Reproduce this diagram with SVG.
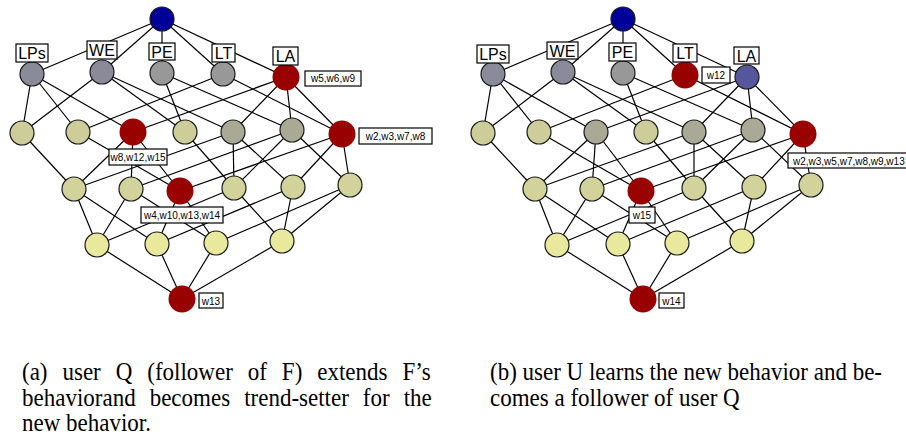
<svg xmlns="http://www.w3.org/2000/svg" width="906" height="438" viewBox="0 0 906 438">
<style>
  .e line { stroke:#000; stroke-width:1.2; }
  circle { stroke:#1a1a1a; stroke-width:1.2; }
  .top { fill:#000099; }
  .g1 { fill:#8a8a98; }
  .g2 { fill:#989898; }
  .red { fill:#990000; stroke:none; }
  .blu { fill:#56569c; }
  .k2 { fill:#cdcd99; }
  .gk { fill:#a9a995; }
  .k3 { fill:#d2d29b; }
  .y4 { fill:#e9e99d; }
  .box { fill:#fff; stroke:#000; stroke-width:1.2; }
  .at { font-family:"Liberation Sans", Arial, sans-serif; font-size:16px; text-anchor:middle; fill:#000; }
  .tg { font-family:"Liberation Sans", Arial, sans-serif; font-size:10px; text-anchor:middle; fill:#000; }
  .cap { font-family:"Liberation Serif", "Times New Roman", serif; font-size:25px; fill:#000; }
</style>

<!-- ===== Diagram (a) ===== -->
<g id="diagram-a">
  <g id="connectors-a" class="e">
    <line x1="162" y1="19" x2="32" y2="74"/>
    <line x1="162" y1="19" x2="102" y2="72"/>
    <line x1="162" y1="19" x2="162" y2="73"/>
    <line x1="162" y1="19" x2="223" y2="74"/>
    <line x1="162" y1="19" x2="286" y2="77"/>
    <line x1="32" y1="74" x2="22" y2="133"/>
    <line x1="32" y1="74" x2="78" y2="132"/>
    <line x1="32" y1="74" x2="133" y2="132"/>
    <line x1="102" y1="72" x2="22" y2="133"/>
    <line x1="102" y1="72" x2="185" y2="132"/>
    <line x1="102" y1="72" x2="233" y2="132"/>
    <line x1="162" y1="73" x2="185" y2="132"/>
    <line x1="162" y1="73" x2="292" y2="130"/>
    <line x1="223" y1="74" x2="78" y2="132"/>
    <line x1="223" y1="74" x2="342" y2="134"/>
    <line x1="286" y1="77" x2="133" y2="132"/>
    <line x1="286" y1="77" x2="233" y2="132"/>
    <line x1="286" y1="77" x2="292" y2="130"/>
    <line x1="286" y1="77" x2="342" y2="134"/>
    <line x1="22" y1="133" x2="74" y2="189"/>
    <line x1="78" y1="132" x2="180" y2="191"/>
    <line x1="133" y1="132" x2="74" y2="189"/>
    <line x1="133" y1="132" x2="131" y2="189"/>
    <line x1="133" y1="132" x2="180" y2="191"/>
    <line x1="185" y1="132" x2="234" y2="188"/>
    <line x1="233" y1="132" x2="74" y2="189"/>
    <line x1="233" y1="132" x2="234" y2="188"/>
    <line x1="233" y1="132" x2="293" y2="187"/>
    <line x1="292" y1="130" x2="131" y2="189"/>
    <line x1="292" y1="130" x2="234" y2="188"/>
    <line x1="292" y1="130" x2="350" y2="185"/>
    <line x1="342" y1="134" x2="180" y2="191"/>
    <line x1="342" y1="134" x2="293" y2="187"/>
    <line x1="342" y1="134" x2="350" y2="185"/>
    <line x1="74" y1="189" x2="97" y2="245"/>
    <line x1="74" y1="189" x2="157" y2="244"/>
    <line x1="131" y1="189" x2="97" y2="245"/>
    <line x1="131" y1="189" x2="216" y2="243"/>
    <line x1="180" y1="191" x2="157" y2="244"/>
    <line x1="180" y1="191" x2="216" y2="243"/>
    <line x1="234" y1="188" x2="97" y2="245"/>
    <line x1="234" y1="188" x2="282" y2="241"/>
    <line x1="293" y1="187" x2="157" y2="244"/>
    <line x1="293" y1="187" x2="282" y2="241"/>
    <line x1="350" y1="185" x2="216" y2="243"/>
    <line x1="350" y1="185" x2="282" y2="241"/>
    <line x1="97" y1="245" x2="182" y2="299"/>
    <line x1="157" y1="244" x2="182" y2="299"/>
    <line x1="216" y1="243" x2="182" y2="299"/>
    <line x1="282" y1="241" x2="182" y2="299"/>
  </g>
  <g id="a-top"><circle class="top" cx="162" cy="19" r="12"/></g>
  <g id="a-LPs"><circle class="g1" cx="32" cy="74" r="12"/><rect class="box" x="16" y="44" width="32" height="18"/><text class="at" x="32" y="59">LPs</text></g>
  <g id="a-WE"><circle class="g1" cx="102" cy="72" r="12"/><rect class="box" x="87" y="41" width="30" height="18"/><text class="at" x="102" y="56">WE</text></g>
  <g id="a-PE"><circle class="g2" cx="162" cy="73" r="12"/><rect class="box" x="149" y="43" width="26" height="17"/><text class="at" x="162" y="58">PE</text></g>
  <g id="a-LT"><circle class="g2" cx="223" cy="74" r="12"/><rect class="box" x="212" y="44" width="23" height="18"/><text class="at" x="223.5" y="59">LT</text></g>
  <g id="a-LA"><circle class="red" cx="286" cy="77" r="13.5"/><rect class="box" x="273" y="47" width="25" height="18"/><text class="at" x="285.5" y="62">LA</text>
    <rect class="box" x="305" y="71" width="56" height="15"/><text class="tg" x="333" y="82">w5,w6,w9</text></g>
  <g id="a-r0"><circle class="k2" cx="22" cy="133" r="12"/></g>
  <g id="a-r1"><circle class="k2" cx="78" cy="132" r="12"/></g>
  <g id="a-r2"><circle class="red" cx="133" cy="132" r="13.5"/></g>
  <g id="a-r3"><circle class="k2" cx="185" cy="132" r="12"/></g>
  <g id="a-r4"><circle class="gk" cx="233" cy="132" r="12"/></g>
  <g id="a-r5"><circle class="gk" cx="292" cy="130" r="12"/></g>
  <g id="a-r6"><circle class="red" cx="342" cy="134" r="13.5"/><rect class="box" x="359" y="128" width="73" height="16"/><text class="tg" x="395.5" y="140">w2,w3,w7,w8</text></g>
  <g id="a-s0"><circle class="k3" cx="74" cy="189" r="12"/></g>
  <g id="a-s1"><circle class="k3" cx="131" cy="189" r="12"/></g>
  <g id="a-s2"><circle class="red" cx="180" cy="191" r="13.5"/></g>
  <g id="a-s3"><circle class="k3" cx="234" cy="188" r="12"/></g>
  <g id="a-s4"><circle class="k3" cx="293" cy="187" r="12"/></g>
  <g id="a-s5"><circle class="k3" cx="350" cy="185" r="12"/></g>
  <g id="a-tag-r2"><rect class="box" x="109" y="149" width="58" height="16"/><text class="tg" x="138" y="161">w8,w12,w15</text></g>
  <g id="a-tag-s2"><rect class="box" x="141" y="207" width="82" height="16"/><text class="tg" x="182" y="219">w4,w10,w13,w14</text></g>
  <g id="a-t0"><circle class="y4" cx="97" cy="245" r="12"/></g>
  <g id="a-t1"><circle class="y4" cx="157" cy="244" r="12"/></g>
  <g id="a-t2"><circle class="y4" cx="216" cy="243" r="12"/></g>
  <g id="a-t3"><circle class="y4" cx="282" cy="241" r="12"/></g>
  <g id="a-bottom"><circle class="red" cx="182" cy="299" r="13.5"/><rect class="box" x="199" y="293" width="24" height="15"/><text class="tg" x="211" y="304.5">w13</text></g>
</g>

<!-- ===== Diagram (b) ===== -->
<g id="diagram-b" transform="translate(461,0)">
  <g id="connectors-b" class="e">
    <line x1="162" y1="19" x2="32" y2="74"/>
    <line x1="162" y1="19" x2="102" y2="72"/>
    <line x1="162" y1="19" x2="162" y2="73"/>
    <line x1="162" y1="19" x2="224" y2="75"/>
    <line x1="162" y1="19" x2="286" y2="77"/>
    <line x1="32" y1="74" x2="22" y2="133"/>
    <line x1="32" y1="74" x2="78" y2="132"/>
    <line x1="32" y1="74" x2="135" y2="132"/>
    <line x1="102" y1="72" x2="22" y2="133"/>
    <line x1="102" y1="72" x2="185" y2="132"/>
    <line x1="102" y1="72" x2="233" y2="132"/>
    <line x1="162" y1="73" x2="185" y2="132"/>
    <line x1="162" y1="73" x2="292" y2="130"/>
    <line x1="224" y1="75" x2="78" y2="132"/>
    <line x1="224" y1="75" x2="342" y2="134"/>
    <line x1="286" y1="77" x2="135" y2="132"/>
    <line x1="286" y1="77" x2="233" y2="132"/>
    <line x1="286" y1="77" x2="292" y2="130"/>
    <line x1="286" y1="77" x2="342" y2="134"/>
    <line x1="22" y1="133" x2="74" y2="189"/>
    <line x1="78" y1="132" x2="180" y2="191"/>
    <line x1="135" y1="132" x2="74" y2="189"/>
    <line x1="135" y1="132" x2="131" y2="189"/>
    <line x1="135" y1="132" x2="180" y2="191"/>
    <line x1="185" y1="132" x2="233" y2="188"/>
    <line x1="233" y1="132" x2="74" y2="189"/>
    <line x1="233" y1="132" x2="233" y2="188"/>
    <line x1="233" y1="132" x2="293" y2="187"/>
    <line x1="292" y1="130" x2="131" y2="189"/>
    <line x1="292" y1="130" x2="233" y2="188"/>
    <line x1="292" y1="130" x2="350" y2="185"/>
    <line x1="342" y1="134" x2="180" y2="191"/>
    <line x1="342" y1="134" x2="293" y2="187"/>
    <line x1="342" y1="134" x2="350" y2="185"/>
    <line x1="74" y1="189" x2="96" y2="245"/>
    <line x1="74" y1="189" x2="157" y2="244"/>
    <line x1="131" y1="189" x2="96" y2="245"/>
    <line x1="131" y1="189" x2="216" y2="243"/>
    <line x1="180" y1="191" x2="157" y2="244"/>
    <line x1="180" y1="191" x2="216" y2="243"/>
    <line x1="233" y1="188" x2="96" y2="245"/>
    <line x1="233" y1="188" x2="281" y2="241"/>
    <line x1="293" y1="187" x2="157" y2="244"/>
    <line x1="293" y1="187" x2="281" y2="241"/>
    <line x1="350" y1="185" x2="216" y2="243"/>
    <line x1="350" y1="185" x2="281" y2="241"/>
    <line x1="96" y1="245" x2="182" y2="299"/>
    <line x1="157" y1="244" x2="182" y2="299"/>
    <line x1="216" y1="243" x2="182" y2="299"/>
    <line x1="281" y1="241" x2="182" y2="299"/>
  </g>
  <g id="b-top"><circle class="top" cx="162" cy="19" r="12"/></g>
  <g id="b-LPs"><circle class="g1" cx="32" cy="74" r="12"/><rect class="box" x="16" y="45" width="32" height="18"/><text class="at" x="32" y="60">LPs</text></g>
  <g id="b-WE"><circle class="g1" cx="102" cy="72" r="12"/><rect class="box" x="86" y="42" width="31" height="17"/><text class="at" x="101.5" y="57">WE</text></g>
  <g id="b-PE"><circle class="g2" cx="162" cy="73" r="12"/><rect class="box" x="148" y="43" width="27" height="18"/><text class="at" x="161.5" y="58">PE</text></g>
  <g id="b-LT"><circle class="red" cx="224" cy="75" r="13.5"/><rect class="box" x="212" y="44" width="24" height="18"/><text class="at" x="224" y="59">LT</text>
    <rect class="box" x="241" y="67" width="28" height="16"/><text class="tg" x="255" y="79">w12</text></g>
  <g id="b-LA"><circle class="blu" cx="286" cy="77" r="12"/><rect class="box" x="273" y="47" width="25" height="17"/><text class="at" x="285.5" y="62">LA</text></g>
  <g id="b-r0"><circle class="k2" cx="22" cy="133" r="12"/></g>
  <g id="b-r1"><circle class="k2" cx="78" cy="132" r="12"/></g>
  <g id="b-r2"><circle class="gk" cx="135" cy="132" r="12"/></g>
  <g id="b-r3"><circle class="k2" cx="185" cy="132" r="12"/></g>
  <g id="b-r4"><circle class="gk" cx="233" cy="132" r="12"/></g>
  <g id="b-r5"><circle class="gk" cx="292" cy="130" r="12"/></g>
  <g id="b-r6"><circle class="red" cx="342" cy="134" r="13.5"/><rect class="box" x="327" y="153" width="125" height="15"/><text class="tg" x="332" y="164.5" style="text-anchor:start">w2,w3,w5,w7,w8,w9,w13</text></g>
  <g id="b-s0"><circle class="k3" cx="74" cy="189" r="12"/></g>
  <g id="b-s1"><circle class="k3" cx="131" cy="189" r="12"/></g>
  <g id="b-s2"><circle class="red" cx="180" cy="191" r="13.5"/><rect class="box" x="168" y="207" width="26" height="16"/><text class="tg" x="181" y="219">w15</text></g>
  <g id="b-s3"><circle class="k3" cx="233" cy="188" r="12"/></g>
  <g id="b-s4"><circle class="k3" cx="293" cy="187" r="12"/></g>
  <g id="b-s5"><circle class="k3" cx="350" cy="185" r="12"/></g>
  <g id="b-t0"><circle class="y4" cx="96" cy="245" r="12"/></g>
  <g id="b-t1"><circle class="y4" cx="157" cy="244" r="12"/></g>
  <g id="b-t2"><circle class="y4" cx="216" cy="243" r="12"/></g>
  <g id="b-t3"><circle class="y4" cx="281" cy="241" r="12"/></g>
  <g id="b-bottom"><circle class="red" cx="182" cy="299" r="13.5"/><rect class="box" x="198" y="293" width="25" height="15"/><text class="tg" x="210.5" y="304.5">w14</text></g>
</g>

<!-- captions -->
<g id="captions" transform="scale(0.92,1)">
  <text class="cap" x="23.9" y="380" style="word-spacing:10px">(a) user Q (follower of F) extends F’s</text>
  <text class="cap" x="23.9" y="406" style="word-spacing:9px">behaviorand becomes trend-setter for the</text>
  <text class="cap" x="23.9" y="431">new behavior.</text>
  <text class="cap" x="532.6" y="380">(b) user U learns the new behavior and be-</text>
  <text class="cap" x="532.6" y="406">comes a follower of user Q</text>
</g>
</svg>
